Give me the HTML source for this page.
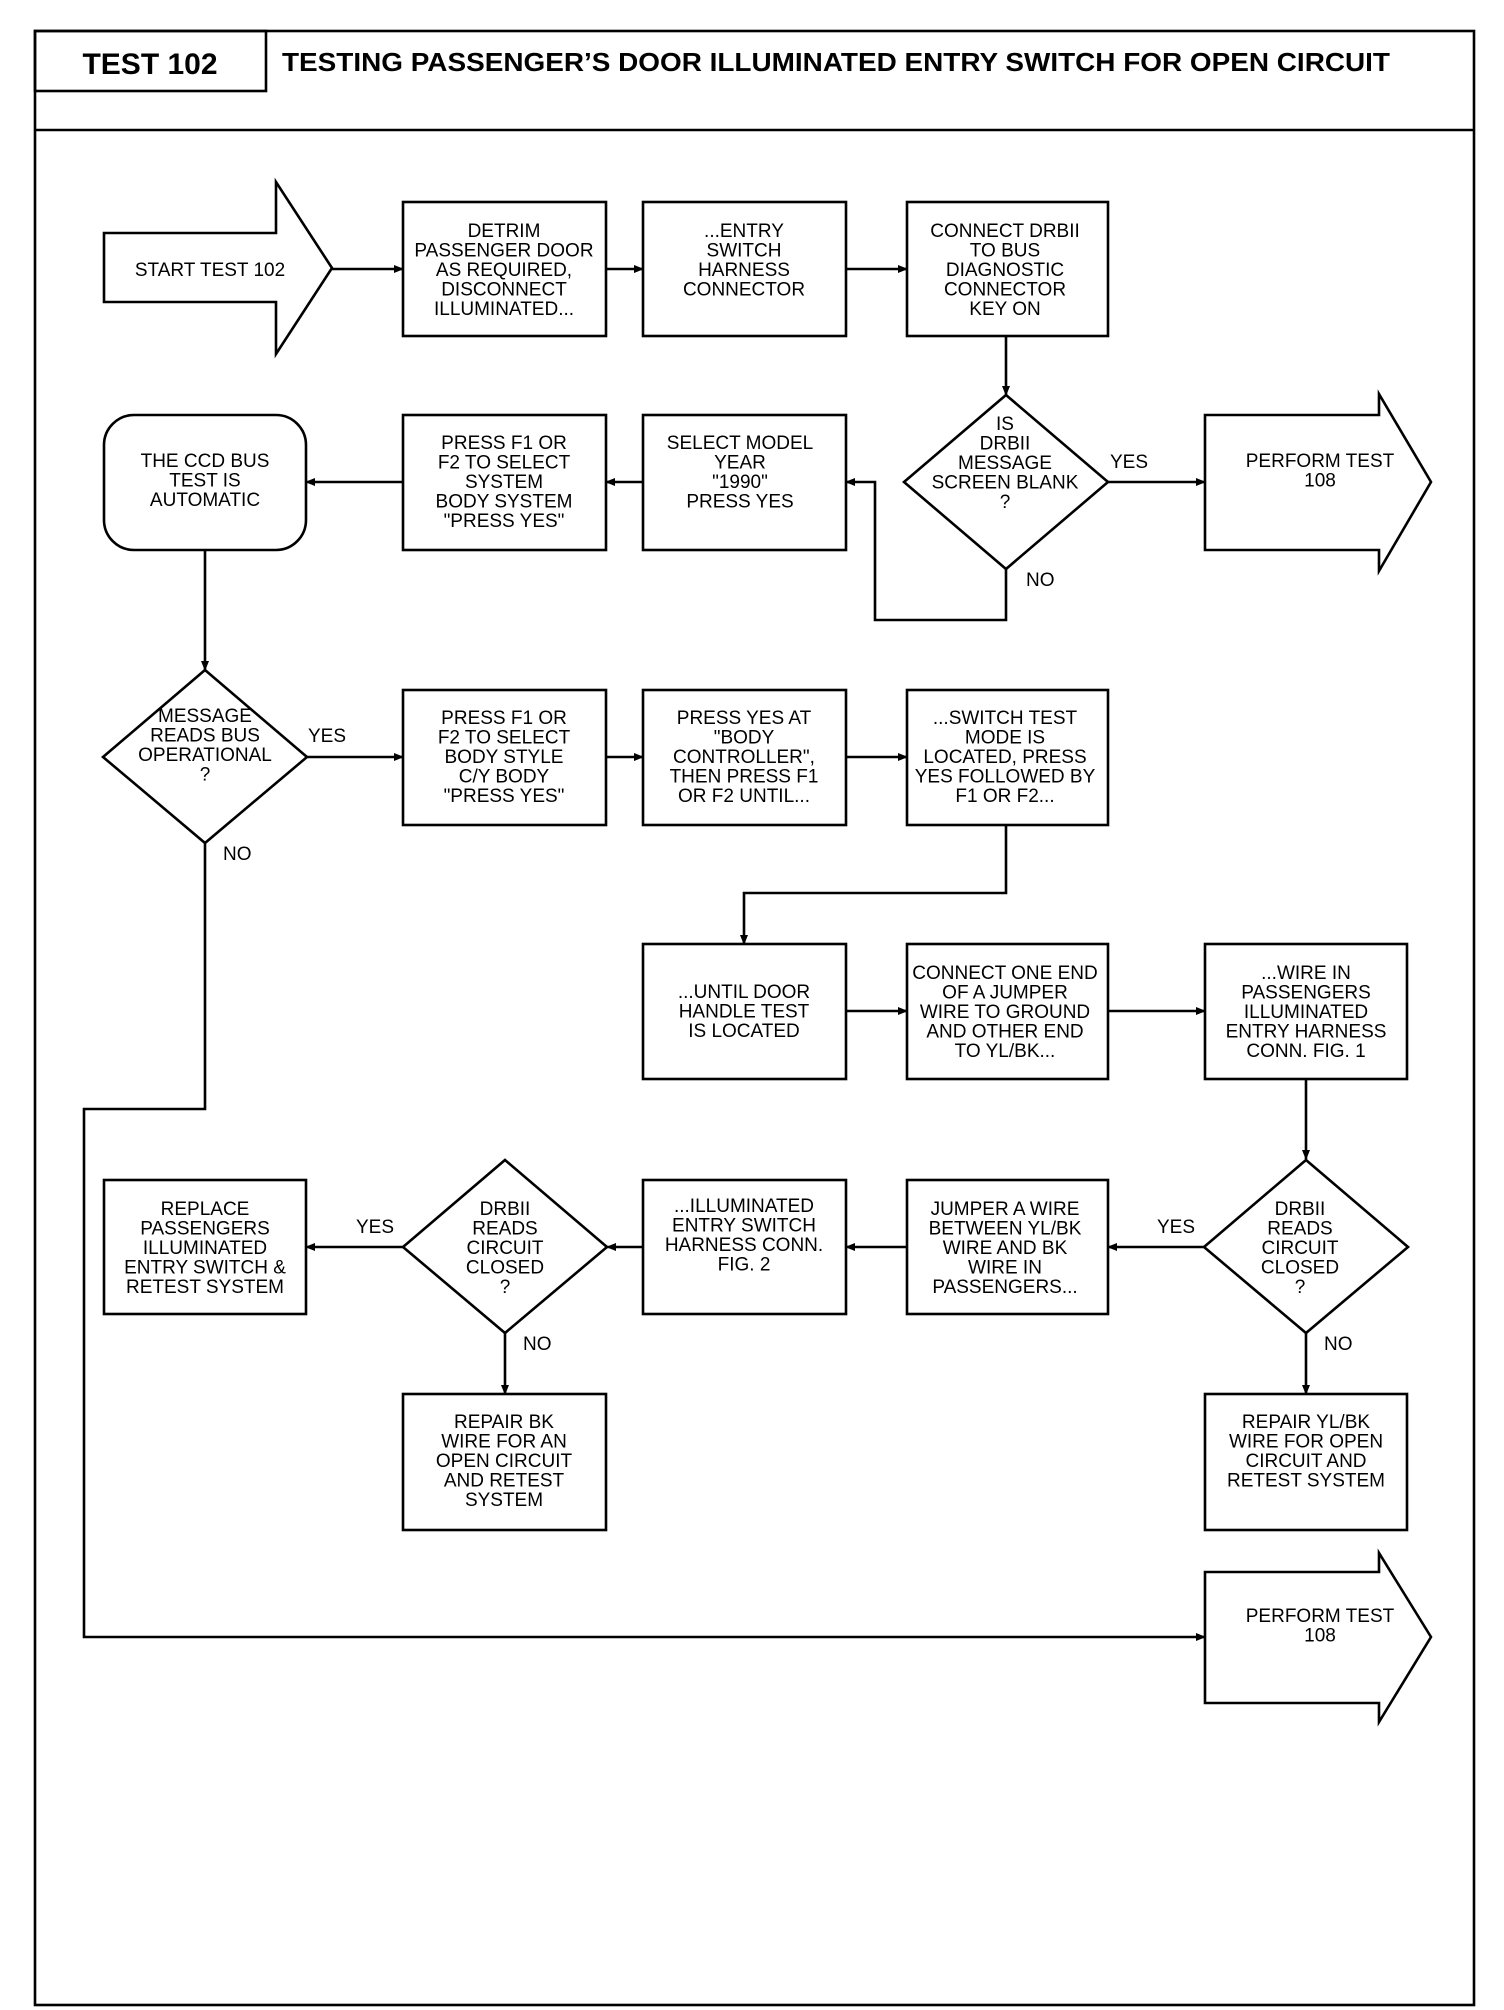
<!DOCTYPE html>
<html><head><meta charset="utf-8"><style>
html,body{margin:0;padding:0;background:#fff;}
svg{display:block;}
.t{font-family:"Liberation Sans",sans-serif;font-size:19px;text-anchor:middle;fill:#000;}
.l{font-family:"Liberation Sans",sans-serif;font-size:19px;fill:#000;}
.s{fill:#fff;stroke:#000;stroke-width:2.6;}
.c{fill:none;stroke:#000;stroke-width:2.6;}
</style></head><body>
<svg width="1504" height="2010" viewBox="0 0 1504 2010" xmlns="http://www.w3.org/2000/svg">
<defs><marker id="a" markerWidth="10" markerHeight="10" refX="9" refY="5" orient="auto" markerUnits="userSpaceOnUse"><path d="M0,1 L10,5 L0,9 Z" fill="#000"/></marker></defs>
<!-- frame -->
<rect x="35" y="31" width="1439" height="1974" class="c"/>
<line x1="35" y1="130" x2="1474" y2="130" class="c"/>
<rect x="35" y="31" width="231" height="60" class="c"/>
<text x="150" y="74" style="font-family:'Liberation Sans',sans-serif;font-weight:bold;font-size:30px;text-anchor:middle">TEST 102</text>
<text x="282" y="71" textLength="1108" lengthAdjust="spacingAndGlyphs" style="font-family:'Liberation Sans',sans-serif;font-weight:bold;font-size:26px">TESTING PASSENGER’S DOOR ILLUMINATED ENTRY SWITCH FOR OPEN CIRCUIT</text>

<!-- connectors -->
<line x1="332" y1="269" x2="403" y2="269" class="c" marker-end="url(#a)"/>
<line x1="606" y1="269" x2="643" y2="269" class="c" marker-end="url(#a)"/>
<line x1="846" y1="269" x2="907" y2="269" class="c" marker-end="url(#a)"/>
<line x1="1006" y1="336" x2="1006" y2="395" class="c" marker-end="url(#a)"/>
<line x1="1108" y1="482" x2="1205" y2="482" class="c" marker-end="url(#a)"/>
<polyline points="1006,569 1006,620 875,620 875,482 846,482" class="c" marker-end="url(#a)"/>
<line x1="643" y1="482" x2="606" y2="482" class="c" marker-end="url(#a)"/>
<line x1="403" y1="482" x2="306" y2="482" class="c" marker-end="url(#a)"/>
<line x1="205" y1="550" x2="205" y2="670" class="c" marker-end="url(#a)"/>
<line x1="307" y1="757" x2="403" y2="757" class="c" marker-end="url(#a)"/>
<line x1="606" y1="757" x2="643" y2="757" class="c" marker-end="url(#a)"/>
<line x1="846" y1="757" x2="907" y2="757" class="c" marker-end="url(#a)"/>
<polyline points="1006,825 1006,893 744,893 744,944" class="c" marker-end="url(#a)"/>
<line x1="846" y1="1011" x2="907" y2="1011" class="c" marker-end="url(#a)"/>
<line x1="1108" y1="1011" x2="1205" y2="1011" class="c" marker-end="url(#a)"/>
<line x1="1306" y1="1079" x2="1306" y2="1159" class="c" marker-end="url(#a)"/>
<line x1="1205" y1="1247" x2="1108" y2="1247" class="c" marker-end="url(#a)"/>
<line x1="907" y1="1247" x2="846" y2="1247" class="c" marker-end="url(#a)"/>
<line x1="643" y1="1247" x2="607" y2="1247" class="c" marker-end="url(#a)"/>
<line x1="403" y1="1247" x2="306" y2="1247" class="c" marker-end="url(#a)"/>
<line x1="505" y1="1333" x2="505" y2="1394" class="c" marker-end="url(#a)"/>
<line x1="1306" y1="1333" x2="1306" y2="1394" class="c" marker-end="url(#a)"/>
<polyline points="205,843 205,1109 84,1109 84,1637 1205,1637" class="c" marker-end="url(#a)"/>

<!-- row 1 -->
<polygon points="104,233 276,233 276,182 332,268 276,354 276,302 104,302" class="s"/>
<text class="t" x="210" y="276">START TEST 102</text>
<rect x="403" y="202" width="203" height="134" class="s"/>
<text class="t" x="504" y="237">DETRIM<tspan x="504" dy="19.5">PASSENGER DOOR</tspan><tspan x="504" dy="19.5">AS REQUIRED,</tspan><tspan x="504" dy="19.5">DISCONNECT</tspan><tspan x="504" dy="19.5">ILLUMINATED...</tspan></text>
<rect x="643" y="202" width="203" height="134" class="s"/>
<text class="t" x="744" y="237">...ENTRY<tspan x="744" dy="19.5">SWITCH</tspan><tspan x="744" dy="19.5">HARNESS</tspan><tspan x="744" dy="19.5">CONNECTOR</tspan></text>
<rect x="907" y="202" width="201" height="134" class="s"/>
<text class="t" x="1005" y="237">CONNECT DRBII<tspan x="1005" dy="19.5">TO BUS</tspan><tspan x="1005" dy="19.5">DIAGNOSTIC</tspan><tspan x="1005" dy="19.5">CONNECTOR</tspan><tspan x="1005" dy="19.5">KEY ON</tspan></text>

<!-- row 2 -->
<rect x="104" y="415" width="202" height="135" rx="30" class="s"/>
<text class="t" x="205" y="467">THE CCD BUS<tspan x="205" dy="19.5">TEST IS</tspan><tspan x="205" dy="19.5">AUTOMATIC</tspan></text>
<rect x="403" y="415" width="203" height="135" class="s"/>
<text class="t" x="504" y="449">PRESS F1 OR<tspan x="504" dy="19.5">F2 TO SELECT</tspan><tspan x="504" dy="19.5">SYSTEM</tspan><tspan x="504" dy="19.5">BODY SYSTEM</tspan><tspan x="504" dy="19.5">"PRESS YES"</tspan></text>
<rect x="643" y="415" width="203" height="135" class="s"/>
<text class="t" x="740" y="449">SELECT MODEL<tspan x="740" dy="19.5">YEAR</tspan><tspan x="740" dy="19.5">"1990"</tspan><tspan x="740" dy="19.5">PRESS YES</tspan></text>
<polygon points="1006,395 1108,482 1006,569 904,482" class="s"/>
<text class="t" x="1005" y="430">IS<tspan x="1005" dy="19.5">DRBII</tspan><tspan x="1005" dy="19.5">MESSAGE</tspan><tspan x="1005" dy="19.5">SCREEN BLANK</tspan><tspan x="1005" dy="19.5">?</tspan></text>
<text class="l" x="1110" y="468">YES</text>
<text class="l" x="1026" y="586">NO</text>
<polygon points="1205,415 1379,415 1379,394 1431,482 1379,571 1379,550 1205,550" class="s"/>
<text class="t" x="1320" y="467">PERFORM TEST<tspan x="1320" dy="19.5">108</tspan></text>

<!-- row 3 -->
<polygon points="205,670 307,757 205,843 103,757" class="s"/>
<text class="t" x="205" y="722">MESSAGE<tspan x="205" dy="19.5">READS BUS</tspan><tspan x="205" dy="19.5">OPERATIONAL</tspan><tspan x="205" dy="19.5">?</tspan></text>
<text class="l" x="308" y="742">YES</text>
<text class="l" x="223" y="860">NO</text>
<rect x="403" y="690" width="203" height="135" class="s"/>
<text class="t" x="504" y="724">PRESS F1 OR<tspan x="504" dy="19.5">F2 TO SELECT</tspan><tspan x="504" dy="19.5">BODY STYLE</tspan><tspan x="504" dy="19.5">C/Y BODY</tspan><tspan x="504" dy="19.5">"PRESS YES"</tspan></text>
<rect x="643" y="690" width="203" height="135" class="s"/>
<text class="t" x="744" y="724">PRESS YES AT<tspan x="744" dy="19.5">"BODY</tspan><tspan x="744" dy="19.5">CONTROLLER",</tspan><tspan x="744" dy="19.5">THEN PRESS F1</tspan><tspan x="744" dy="19.5">OR F2 UNTIL...</tspan></text>
<rect x="907" y="690" width="201" height="135" class="s"/>
<text class="t" x="1005" y="724">...SWITCH TEST<tspan x="1005" dy="19.5">MODE IS</tspan><tspan x="1005" dy="19.5">LOCATED, PRESS</tspan><tspan x="1005" dy="19.5">YES FOLLOWED BY</tspan><tspan x="1005" dy="19.5">F1 OR F2...</tspan></text>

<!-- row 4 -->
<rect x="643" y="944" width="203" height="135" class="s"/>
<text class="t" x="744" y="998">...UNTIL DOOR<tspan x="744" dy="19.5">HANDLE TEST</tspan><tspan x="744" dy="19.5">IS LOCATED</tspan></text>
<rect x="907" y="944" width="201" height="135" class="s"/>
<text class="t" x="1005" y="979">CONNECT ONE END<tspan x="1005" dy="19.5">OF A JUMPER</tspan><tspan x="1005" dy="19.5">WIRE TO GROUND</tspan><tspan x="1005" dy="19.5">AND OTHER END</tspan><tspan x="1005" dy="19.5">TO YL/BK...</tspan></text>
<rect x="1205" y="944" width="202" height="135" class="s"/>
<text class="t" x="1306" y="979">...WIRE IN<tspan x="1306" dy="19.5">PASSENGERS</tspan><tspan x="1306" dy="19.5">ILLUMINATED</tspan><tspan x="1306" dy="19.5">ENTRY HARNESS</tspan><tspan x="1306" dy="19.5">CONN. FIG. 1</tspan></text>

<!-- row 5 -->
<rect x="104" y="1180" width="202" height="134" class="s"/>
<text class="t" x="205" y="1215">REPLACE<tspan x="205" dy="19.5">PASSENGERS</tspan><tspan x="205" dy="19.5">ILLUMINATED</tspan><tspan x="205" dy="19.5">ENTRY SWITCH &amp;</tspan><tspan x="205" dy="19.5">RETEST SYSTEM</tspan></text>
<text class="l" x="356" y="1233">YES</text>
<polygon points="505,1160 607,1247 505,1333 403,1247" class="s"/>
<text class="t" x="505" y="1215">DRBII<tspan x="505" dy="19.5">READS</tspan><tspan x="505" dy="19.5">CIRCUIT</tspan><tspan x="505" dy="19.5">CLOSED</tspan><tspan x="505" dy="19.5">?</tspan></text>
<text class="l" x="523" y="1350">NO</text>
<rect x="643" y="1180" width="203" height="134" class="s"/>
<text class="t" x="744" y="1212">...ILLUMINATED<tspan x="744" dy="19.5">ENTRY SWITCH</tspan><tspan x="744" dy="19.5">HARNESS CONN.</tspan><tspan x="744" dy="19.5">FIG. 2</tspan></text>
<rect x="907" y="1180" width="201" height="134" class="s"/>
<text class="t" x="1005" y="1215">JUMPER A WIRE<tspan x="1005" dy="19.5">BETWEEN YL/BK</tspan><tspan x="1005" dy="19.5">WIRE AND BK</tspan><tspan x="1005" dy="19.5">WIRE IN</tspan><tspan x="1005" dy="19.5">PASSENGERS...</tspan></text>
<text class="l" x="1157" y="1233">YES</text>
<polygon points="1306,1160 1408,1247 1306,1333 1204,1247" class="s"/>
<text class="t" x="1300" y="1215">DRBII<tspan x="1300" dy="19.5">READS</tspan><tspan x="1300" dy="19.5">CIRCUIT</tspan><tspan x="1300" dy="19.5">CLOSED</tspan><tspan x="1300" dy="19.5">?</tspan></text>
<text class="l" x="1324" y="1350">NO</text>

<!-- repair row -->
<rect x="403" y="1394" width="203" height="136" class="s"/>
<text class="t" x="504" y="1428">REPAIR BK<tspan x="504" dy="19.5">WIRE FOR AN</tspan><tspan x="504" dy="19.5">OPEN CIRCUIT</tspan><tspan x="504" dy="19.5">AND RETEST</tspan><tspan x="504" dy="19.5">SYSTEM</tspan></text>
<rect x="1205" y="1394" width="202" height="136" class="s"/>
<text class="t" x="1306" y="1428">REPAIR YL/BK<tspan x="1306" dy="19.5">WIRE FOR OPEN</tspan><tspan x="1306" dy="19.5">CIRCUIT AND</tspan><tspan x="1306" dy="19.5">RETEST SYSTEM</tspan></text>

<polygon points="1205,1572 1379,1572 1379,1553 1431,1637 1379,1722 1379,1703 1205,1703" class="s"/>
<text class="t" x="1320" y="1622">PERFORM TEST<tspan x="1320" dy="19.5">108</tspan></text>
</svg>
</body></html>
